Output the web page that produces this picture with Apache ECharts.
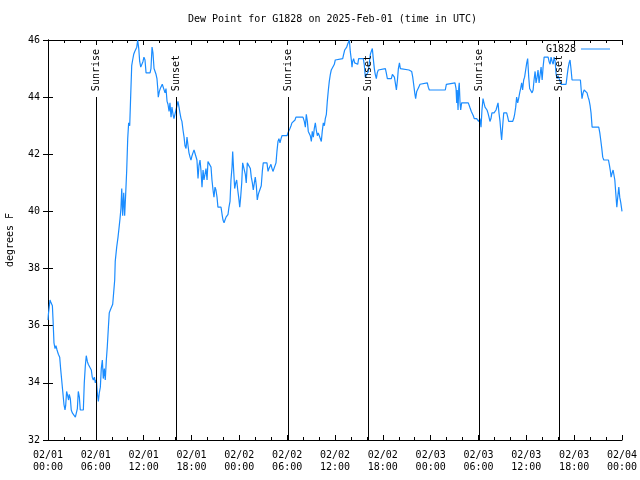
<!DOCTYPE html>
<html>
<head>
<meta charset="utf-8">
<script src="https://cdn.jsdelivr.net/npm/echarts@6/dist/echarts.min.js"></script>
<style>html,body{margin:0;padding:0;background:#fff}#c{width:640px;height:480px}</style>
</head>
<body>
<div id="c"></div>
<script>
// minutes since 2025-02-01 00:00 UTC, dew point in degrees F
const readings = [
[0,36.2],[3,36.4],[15,36.9],[23,36.8],[33,36.7],[38,36.2],[45,35.4],[53,35.2],[60,35.3],[68,35.15],
[78,35.0],[88,34.9],[95,34.5],[103,34.1],[110,33.75],[120,33.25],[128,33.05],[133,33.2],[140,33.7],[148,33.55],
[155,33.4],[160,33.6],[168,33.45],[175,33.05],[183,32.95],[198,32.9],[206,32.8],[213,32.75],[221,33.1],[228,33.7],
[236,33.5],[243,33.05],[266,33.05],[273,34.0],[281,34.6],[288,34.95],[296,34.75],[303,34.65],[318,34.6],[326,34.45],
[333,34.2],[341,34.1],[349,34.2],[356,34.0],[364,34.1],[371,33.65],[379,33.35],[386,33.65],[394,33.85],[401,34.5],
[409,34.8],[416,34.15],[424,34.5],[431,34.1],[439,34.8],[446,35.25],[454,35.9],[461,36.45],[469,36.55],[479,36.6],
[487,36.75],[494,37.15],[502,37.6],[506,38.25],[517,38.75],[527,39.1],[534,39.4],[542,39.75],[549,40.1],[555,40.8],
[562,39.85],[570,40.65],[577,39.85],[585,40.65],[592,41.4],[600,42.55],[607,43.1],[615,43.0],[622,44.0],[630,45.1],
[637,45.3],[645,45.5],[653,45.6],[660,45.65],[668,45.75],[675,46.0],[683,45.7],[690,45.25],[698,45.05],[707,45.05],
[715,45.25],[722,45.4],[730,45.3],[738,44.85],[768,44.85],[775,45.0],[783,45.75],[790,45.55],[798,45.0],[805,45.05],
[813,44.8],[820,44.65],[826,44.3],[830,44.0],[838,44.2],[845,44.3],[853,44.35],[860,44.45],[873,44.4],[881,44.15],
[888,44.3],[896,43.85],[903,43.75],[911,43.5],[918,43.8],[926,43.3],[933,43.65],[941,43.4],[948,43.25],[956,43.2],
[963,43.55],[971,43.7],[978,43.85],[986,43.65],[993,43.45],[1001,43.25],[1008,43.15],[1016,42.85],[1024,42.6],[1031,42.3],
[1039,42.2],[1046,42.6],[1054,42.3],[1061,42.05],[1069,41.9],[1076,41.8],[1084,41.95],[1091,42.05],[1099,42.15],[1114,42.15],
[1121,41.8],[1129,41.15],[1136,41.6],[1144,41.8],[1151,41.45],[1159,40.85],[1167,41.45],[1174,41.1],[1182,41.05],[1189,41.5],
[1197,41.1],[1204,41.75],[1219,41.75],[1227,41.55],[1234,41.1],[1242,40.75],[1249,40.5],[1257,40.85],[1264,40.75],[1272,40.5],
[1279,40.15],[1302,40.15],[1310,39.9],[1317,39.7],[1325,39.6],[1332,39.7],[1340,39.8],[1355,39.9],[1362,40.15],[1370,40.35],
[1377,41.1],[1385,41.55],[1390,42.1],[1397,41.45],[1405,40.8],[1413,41.0],[1420,41.1],[1428,40.75],[1435,40.5],[1443,40.15],
[1450,40.5],[1458,41.0],[1465,41.7],[1478,41.7],[1485,41.3],[1492,41.0],[1500,41.7],[1515,41.7],[1523,41.5],[1530,41.2],
[1538,41.0],[1545,40.75],[1553,41.0],[1560,41.2],[1568,40.9],[1575,40.4],[1583,40.6],[1590,40.7],[1598,40.75],[1605,40.9],
[1613,41.4],[1620,41.7],[1648,41.7],[1656,41.4],[1663,41.5],[1671,41.55],[1678,41.65],[1686,41.5],[1693,41.4],[1708,41.4],
[1716,41.7],[1723,42.1],[1731,42.45],[1738,42.55],[1746,42.4],[1754,42.55],[1761,42.65],[1799,42.65],[1806,42.75],[1814,42.8],
[1821,42.9],[1829,43.0],[1836,43.1],[1851,43.1],[1859,43.2],[1866,43.3],[1919,43.3],[1929,43.15],[1937,42.95],[1944,43.4],
[1952,43.15],[1959,42.8],[1967,42.75],[1974,42.65],[1982,42.45],[1989,42.8],[1997,42.6],[2004,42.9],[2012,43.1],[2019,42.85],
[2027,42.65],[2034,42.75],[2042,42.65],[2049,42.55],[2057,42.45],[2064,42.8],[2072,43.1],[2080,43.0],[2087,43.25],[2095,43.4],
[2102,43.85],[2110,44.25],[2117,44.55],[2125,44.8],[2132,44.95],[2147,45.0],[2155,45.15],[2162,45.3],[2170,45.35],[2218,45.35],
[2225,45.5],[2233,45.65],[2248,45.75],[2255,45.85],[2263,45.9],[2268,46.0],[2275,45.6],[2283,45.3],[2288,45.05],[2293,45.25],
[2300,45.35],[2308,45.2],[2316,45.15],[2323,45.25],[2331,45.15],[2338,45.35],[2373,45.35],[2380,45.15],[2388,44.7],[2398,44.75],
[2411,44.9],[2418,45.2],[2426,45.5],[2433,45.6],[2441,45.7],[2448,45.35],[2456,45.0],[2463,44.8],[2471,44.65],[2478,44.85],
[2486,44.95],[2494,45.0],[2539,45.0],[2546,44.85],[2554,44.65],[2584,44.65],[2592,44.8],[2599,44.85],[2607,44.7],[2614,44.5],
[2622,44.25],[2630,44.6],[2637,45.0],[2645,45.2],[2652,45.0],[2660,44.95],[2717,44.95],[2737,44.9],[2745,44.7],[2752,44.45],
[2760,44.15],[2767,43.95],[2775,44.2],[2782,44.25],[2790,44.35],[2800,44.45],[2808,44.5],[2855,44.5],[2862,44.35],[2870,44.25],
[2990,44.25],[2998,44.45],[3005,44.5],[3063,44.5],[3071,44.3],[3076,43.8],[3080,44.25],[3086,43.55],[3091,44.3],[3095,44.5],
[3101,43.8],[3106,43.55],[3113,43.8],[3118,43.85],[3163,43.8],[3171,43.7],[3178,43.6],[3186,43.5],[3193,43.45],[3201,43.35],
[3208,43.25],[3226,43.25],[3234,43.2],[3241,43.15],[3251,43.25],[3259,42.95],[3266,43.55],[3274,43.95],[3281,43.8],[3289,43.65],
[3296,43.65],[3304,43.55],[3311,43.45],[3319,43.3],[3326,43.15],[3334,43.25],[3341,43.45],[3349,43.5],[3357,43.45],[3364,43.5],
[3372,43.55],[3379,43.6],[3387,43.8],[3394,43.45],[3402,43.15],[3409,42.75],[3414,42.5],[3422,43.0],[3430,43.45],[3452,43.45],
[3460,43.3],[3467,43.15],[3497,43.15],[3505,43.25],[3512,43.4],[3520,43.65],[3527,44.0],[3535,43.8],[3542,43.95],[3550,44.15],
[3557,44.3],[3565,44.5],[3572,44.25],[3580,44.6],[3587,44.7],[3595,44.95],[3603,45.2],[3610,45.35],[3618,44.7],[3625,44.3],
[3636,44.3],[3643,44.15],[3651,44.25],[3658,44.6],[3666,44.9],[3673,44.5],[3681,44.7],[3688,44.95],[3696,44.5],[3704,44.8],
[3711,45.05],[3719,44.6],[3726,45.05],[3734,45.4],[3764,45.4],[3771,45.25],[3779,45.15],[3786,45.4],[3794,45.25],[3802,45.15],
[3809,45.4],[3817,45.25],[3824,44.8],[3832,44.65],[3839,44.75],[3862,44.45],[3899,44.45],[3907,44.75],[3914,45.0],[3922,45.2],
[3929,45.3],[3937,44.95],[3944,44.6],[4007,44.6],[4014,44.2],[4019,43.95],[4027,44.15],[4035,44.25],[4050,44.25],[4057,44.15],
[4065,44.0],[4072,43.9],[4080,43.7],[4087,43.45],[4095,42.95],[4145,42.95],[4153,42.75],[4160,42.5],[4168,42.2],[4175,41.9],
[4183,41.8],[4218,41.8],[4226,41.6],[4233,41.4],[4238,41.2],[4246,41.35],[4253,41.45],[4261,41.45],[4266,41.1],[4273,40.65],
[4281,40.15],[4288,40.5],[4296,40.85],[4303,40.5],[4311,40.3],[4320,40.0]
];

// sun events (minutes since start) and their labels
const sunMinutes = [364, 966, 1804, 2406, 3244, 3846];
const sunLabels = ['Sunrise', 'Sunset', 'Sunrise', 'Sunset', 'Sunrise', 'Sunset'];
const sunLineTop = 44;

// tick labels
const xTickDates = ['02/01','02/01','02/01','02/01','02/02','02/02','02/02','02/02','02/03','02/03','02/03','02/03','02/04'];
const xTickTimes = ['00:00','06:00','12:00','18:00','00:00','06:00','12:00','18:00','00:00','06:00','12:00','18:00','00:00'];
const xMin = 0, xMax = 4320, xStep = 360;
const yMin = 32, yMax = 46, yStep = 2;

const FONT = "'DejaVu Sans Mono', monospace";
const LINE_COLOR = '#1a8cff';
const chart = echarts.init(document.getElementById('c'), null, {renderer: 'canvas'});

const axisCommon = {
  axisLine: {show: true, lineStyle: {color: '#000', width: 1}},
  axisTick: {show: true, inside: true, length: 5, lineStyle: {color: '#000'}},
  splitLine: {show: false}
};

chart.setOption({
  animation: false,
  backgroundColor: '#fff',
  title: {
    text: 'Dew Point for G1828 on 2025-Feb-01 (time in UTC)',
    left: 188, top: 14, padding: 0,
    textStyle: {fontFamily: FONT, fontSize: 10, fontWeight: 'normal', color: '#000'}
  },
  legend: {
    data: [{name: 'G1828', icon: 'rect'}],
    right: 30, top: 44, padding: 0,
    align: 'right',
    itemWidth: 29, itemHeight: 1,
    textStyle: {fontFamily: FONT, fontSize: 10, color: '#000'}
  },
  grid: {left: 48, right: 18, top: 40, bottom: 40, containLabel: false, outerBoundsMode: 'none'},
  xAxis: [
    Object.assign({}, axisCommon, {
      type: 'value', position: 'bottom', min: xMin, max: xMax, interval: xStep,
      minorTick: {show: true, splitNumber: 3, length: 3, lineStyle: {color: '#000'}},
      axisLabel: {
        margin: 9, lineHeight: 12, fontFamily: FONT, fontSize: 10, color: '#000',
        showMinLabel: true, showMaxLabel: true, hideOverlap: false,
        formatter: v => { const i = Math.round(v / xStep); return xTickDates[i] + '\n' + xTickTimes[i]; }
      }
    }),
    Object.assign({}, axisCommon, {
      type: 'value', position: 'top', min: xMin, max: xMax, interval: xStep,
      minorTick: {show: true, splitNumber: 3, length: 3, lineStyle: {color: '#000'}},
      axisLabel: {show: false}
    })
  ],
  yAxis: [
    Object.assign({}, axisCommon, {
      type: 'value', position: 'left', min: yMin, max: yMax, interval: yStep,
      axisLabel: {margin: 8, fontFamily: FONT, fontSize: 10, color: '#000'},
      name: 'degrees F', nameLocation: 'middle', nameGap: 33, nameRotate: 90,
      nameTextStyle: {fontFamily: FONT, fontSize: 10, color: '#000'}
    }),
    Object.assign({}, axisCommon, {
      type: 'value', position: 'right', min: yMin, max: yMax, interval: yStep,
      axisLabel: {show: false}
    })
  ],
  series: [
    {
      name: 'G1828', type: 'line', xAxisIndex: 0, yAxisIndex: 0,
      data: readings, symbol: 'none', showSymbol: false,
      lineStyle: {color: LINE_COLOR, width: 1.2}, itemStyle: {color: LINE_COLOR},
      z: 2
    },
    {
      type: 'custom', xAxisIndex: 0, yAxisIndex: 0, z: 5,
      data: sunMinutes.map(m => [m, sunLineTop]),
      renderItem: function (params, api) {
        const t = api.value(0);
        const top = api.coord([t, api.value(1)]);
        const bot = api.coord([t, yMin]);
        const x = Math.round(top[0]) + 0.5;
        return {
          type: 'group',
          children: [
            {type: 'line', shape: {x1: x, y1: Math.round(top[1]), x2: x, y2: bot[1]},
             style: {stroke: '#000', lineWidth: 1}},
            {type: 'text', x: x, y: top[1] - 6, rotation: Math.PI / 2,
             style: {text: sunLabels[params.dataIndex], align: 'left', verticalAlign: 'middle',
                     font: "10px 'DejaVu Sans Mono', monospace", fill: '#000'}}
          ]
        };
      }
    }
  ]
});
</script>
</body>
</html>
